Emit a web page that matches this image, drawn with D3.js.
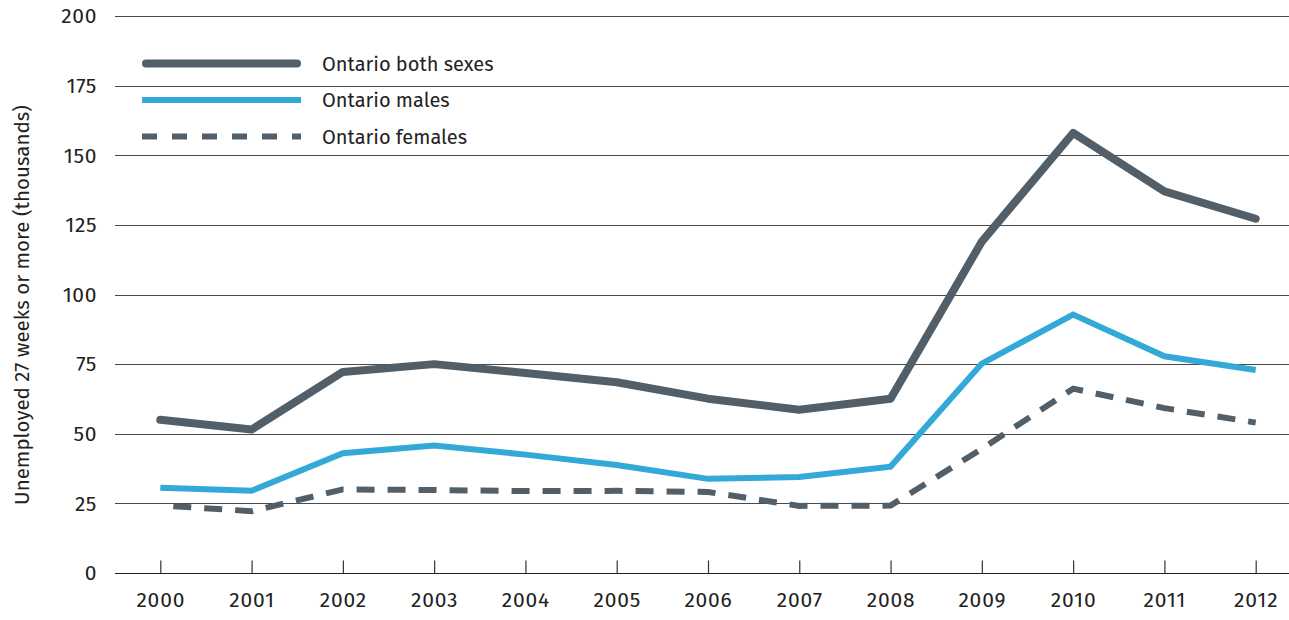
<!DOCTYPE html>
<html><head><meta charset="utf-8">
<script src="https://cdn.jsdelivr.net/npm/d3@7"></script>
<style>
html,body{margin:0;padding:0;background:#fff;}
svg{display:block;font-family:"Fira Sans","Open Sans",Roboto,sans-serif;}
</style></head>
<body><svg id="c" width="1289" height="620"></svg>
<script>
const years = ["2000","2001","2002","2003","2004","2005","2006","2007","2008","2009","2010","2011","2012"];
const bothSexes = [55, 51.5, 72.2, 75, 71.8, 68.5, 62.6, 58.6, 62.6, 119, 158, 137, 127.2];
const males     = [30.6, 29.5, 43, 45.8, 42.5, 38.8, 33.8, 34.5, 38.2, 75.2, 92.8, 77.8, 72.9];
const females   = [24.3, 22.2, 30, 29.8, 29.4, 29.5, 29.1, 24.1, 24.2, 44.6, 66.2, 59.2, 54];
const yTicks = [0, 25, 50, 75, 100, 125, 150, 175, 200];
const seriesNames = ["Ontario both sexes", "Ontario males", "Ontario females"];

const svg = d3.select("#c");
const x = d3.scalePoint().domain(years).range([160.3, 1255.7]);
const y = d3.scaleLinear().domain([0, 200]).range([573, 16]);

// gridlines
svg.append("g").selectAll("line").data(yTicks.filter(d => d > 0)).join("line")
  .attr("x1", 115).attr("x2", 1289)
  .attr("y1", d => Math.round(y(d)) + 0.5).attr("y2", d => Math.round(y(d)) + 0.5)
  .attr("stroke", "#4a4a4a").attr("stroke-width", 1.2);

// y labels
svg.append("g").selectAll("text").data(yTicks).join("text")
  .attr("x", 97).attr("y", d => y(d)).attr("dy", "0.35em")
  .attr("text-anchor", "end").attr("font-size", 21).attr("letter-spacing", 0.6).attr("fill", "#222")
  .text(d => d);

// x axis
const xAxis = d3.axisBottom(x).tickSize(-13).tickPadding(0).tickFormat(d => d);
const gx = svg.append("g").attr("transform", `translate(0,${Math.round(y(0)) + 0.5})`).call(xAxis);
gx.select(".domain").remove();
gx.append("line").attr("x1", 115).attr("x2", 1289).attr("stroke", "#222").attr("stroke-width", 1.2);
gx.selectAll(".tick line").attr("stroke", "#333").attr("stroke-width", 1.2);
gx.selectAll(".tick text").attr("font-size", 21).attr("letter-spacing", 0.8).attr("fill", "#222")
  .attr("font-family", "'Fira Sans','Open Sans',Roboto,sans-serif").attr("y", 33).attr("dy", "0");

// y title
svg.append("text").attr("transform", "translate(22,305) rotate(-90)")
  .attr("text-anchor", "middle").attr("dy", "0.35em").attr("font-size", 20.5).attr("fill", "#222")
  .text("Unemployed 27 weeks or more (thousands)");

const line = d3.line().x((d, i) => x(years[i])).y(d => y(d));
const dark = "#525f68", blue = "#33a9d8";

svg.append("path").datum(females).attr("d", line).attr("fill", "none")
  .attr("stroke", dark).attr("stroke-width", 6).attr("stroke-dasharray", "18,13").attr("stroke-dashoffset", -13);
svg.append("path").datum(males).attr("d", line).attr("fill", "none")
  .attr("stroke", blue).attr("stroke-width", 6);
svg.append("path").datum(bothSexes).attr("d", line).attr("fill", "none")
  .attr("stroke", dark).attr("stroke-width", 8).attr("stroke-linecap", "round").attr("stroke-linejoin", "round");

// legend
const legY = [63.5, 100, 136.5];
const leg = svg.append("g");
leg.append("line").attr("x1", 146).attr("x2", 297).attr("y1", legY[0]).attr("y2", legY[0])
  .attr("stroke", dark).attr("stroke-width", 8).attr("stroke-linecap", "round");
leg.append("line").attr("x1", 142).attr("x2", 301).attr("y1", legY[1]).attr("y2", legY[1])
  .attr("stroke", blue).attr("stroke-width", 6);
leg.append("line").attr("x1", 142).attr("x2", 301).attr("y1", legY[2]).attr("y2", legY[2])
  .attr("stroke", dark).attr("stroke-width", 6).attr("stroke-dasharray", "15,15");
leg.selectAll("text").data(seriesNames).join("text")
  .attr("x", 322).attr("y", (d, i) => legY[i]).attr("dy", "0.35em")
  .attr("font-size", 20).attr("fill", "#222").text(d => d);
</script></body></html>
